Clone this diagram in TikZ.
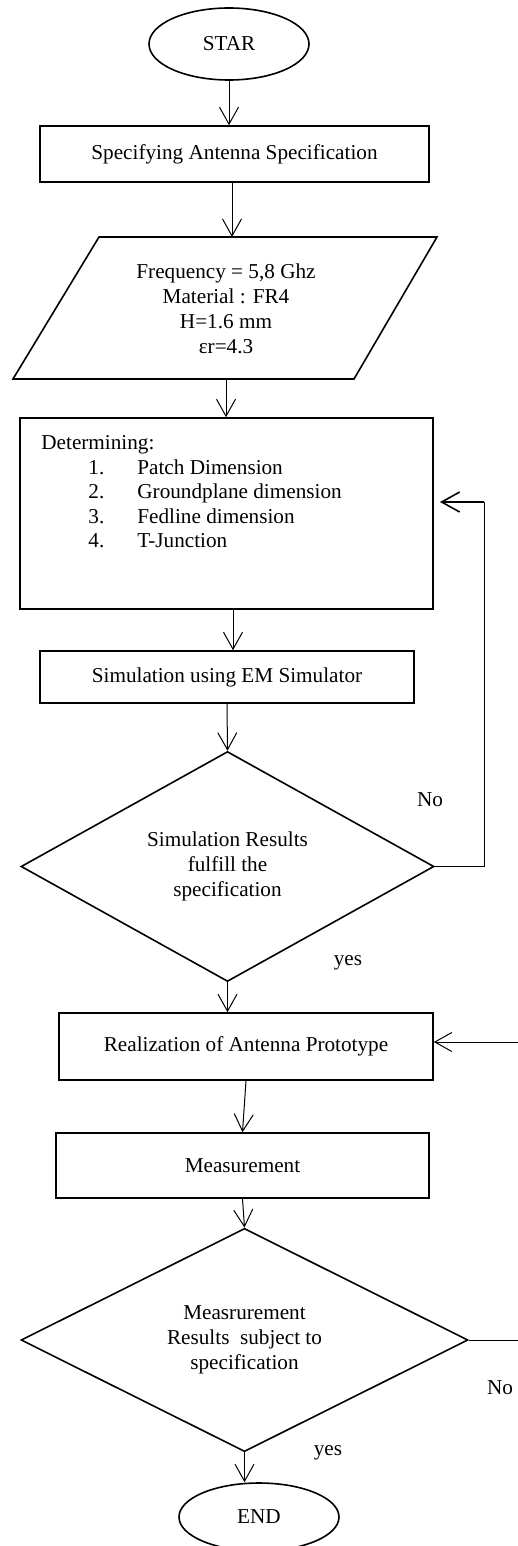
\documentclass[tikz,border=0pt]{standalone}
\usepackage{fontspec}
\setmainfont{Liberation Serif}
\usetikzlibrary{shapes.geometric,arrows.meta,calc}
\begin{document}
\begin{tikzpicture}[x=0.5pt,y=-0.5pt,
  font=\fontsize{10.6}{12.5}\selectfont,
  box/.style={draw, line width=0.8pt, rectangle, inner sep=0pt},
  term/.style={draw, line width=0.8pt, ellipse, inner sep=0pt},
  dec/.style={draw, line width=0.8pt, diamond, inner sep=0pt, align=center},
  arr/.style={line width=0.5pt, -{Straight Barb[length=8.5pt,width=9.5pt]}},
  arrbold/.style={line width=0.8pt, -{Straight Barb[length=9pt,width=10pt]}},
  conn/.style={line width=0.5pt},
  lbl/.style={inner sep=0pt}]
\useasboundingbox (0,0) rectangle (518,1546);

% nodes
\node[term, minimum width=80pt, minimum height=36pt] (start) at (229,44) {STAR};
\node[box, minimum width=194.5pt, minimum height=28pt] (spec) at (234.5,154) {Specifying Antenna Specification};
\draw[line width=0.8pt] (99,237) -- (437,237) -- (354,379) -- (13,379) -- cycle;
\node[lbl, align=center] (params) at (226,309) {Frequency = 5,8 Ghz\\Material : FR4\\H=1.6 mm\\εr=4.3};
\coordinate (ptop) at (232,237);
\coordinate (pbot) at (226,379);

\node[box, minimum width=206.5pt, minimum height=95.5pt] (det) at (226.5,513.5) {};
\node[lbl, anchor=west, align=left, font=\fontsize{10.6}{12.25}\selectfont] (dettext) at (41,492)
  {Determining:\\
   \hspace*{23.5pt}\makebox[24.5pt][l]{1.}Patch Dimension\\
   \hspace*{23.5pt}\makebox[24.5pt][l]{2.}Groundplane dimension\\
   \hspace*{23.5pt}\makebox[24.5pt][l]{3.}Fedline dimension\\
   \hspace*{23.5pt}\makebox[24.5pt][l]{4.}T-Junction};

\node[box, minimum width=187pt, minimum height=26pt] (sim) at (227,677) {Simulation using EM Simulator};
\node[dec, minimum width=206.5pt, minimum height=114.5pt] (d1) at (227.5,866.5) {Simulation Results\\fulfill the\\specification};
\node[lbl] (no1) at (430,800) {No};
\node[lbl] (yes1) at (348,963) {yes};

\node[box, minimum width=187pt, minimum height=33.5pt] (real) at (246,1046.5) {Realization of Antenna Prototype};
\node[box, minimum width=186.5pt, minimum height=32.5pt] (meas) at (242.5,1165.5) {Measurement};
\node[dec, minimum width=223.5pt, minimum height=95pt] (d2) at (244.5,1340) {Measrurement\\Results\ \ subject to\\specification};
\node[lbl] (no2) at (500,1388) {No};
\node[lbl] (yes2) at (328,1453) {yes};
\node[term, minimum width=80pt, minimum height=34pt] (end) at (259,1517) {END};

% loop coordinates
\coordinate (l1a) at (484,866.5);
\coordinate (l1b) at (484,502);
\coordinate (l1tip) at (440,502);
\coordinate (l2a) at (521,1340);
\coordinate (l2b) at (521,1042);

% connectors
\draw[arr] (start.south) -- (start.south |- spec.north);
\draw[arr] (spec.south -| ptop) -- (ptop);
\draw[arr] (pbot) -- (pbot |- det.north);
\draw[arr] ($(det.south)+(6.5,0)$) -- ($(sim.north)+(6,0)$);
\draw[arr] (sim.south) -- (d1.north);
\draw[conn] (d1.east) -- (l1a) -- (l1b);
\draw[arrbold] (l1b) -- (l1tip);
\draw[arr] (d1.south) -- (d1.south |- real.north);
\draw[conn] (d2.east) -- (l2a) -- (l2b);
\draw[arr] (l2b) -- (real.east |- l2b);
\draw[arr] (real.south) -- (meas.north);
\draw[arr] (meas.south) -- (d2.north);
\draw[arr] (d2.south) -- (d2.south |- end.north);
\end{tikzpicture}
\end{document}
